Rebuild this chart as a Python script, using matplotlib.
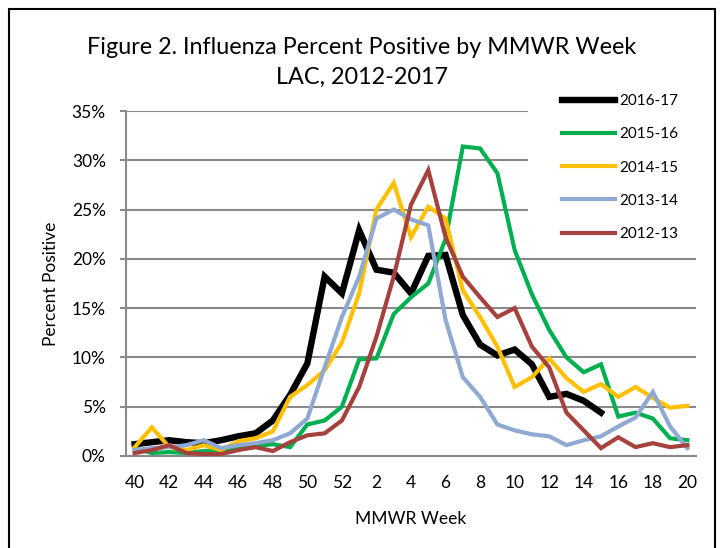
import numpy as np
import matplotlib
matplotlib.use('Agg')
import matplotlib.pyplot as plt
from matplotlib.patches import Rectangle
from matplotlib.ticker import PercentFormatter

# MMWR weeks 40..52 then 1..20
weeks = list(range(40, 53)) + list(range(1, 21))
tick_labels = [str(w) if w % 2 == 0 else '' for w in weeks]

s2016 = [1.2, 1.4, 1.6, 1.4, 1.3, 1.6, 2.0, 2.3, 3.6, 6.2, 9.4, 18.2, 16.5, 22.9,
         18.9, 18.6, 16.5, 20.3, 20.4, 14.3, 11.3, 10.2, 10.8, 9.3, 6.0, 6.3, 5.6, 4.4]
s2015 = [0.8, 0.3, 0.4, 0.3, 0.5, 0.6, 0.8, 1.0, 1.2, 0.9, 3.2, 3.6, 5.0, 9.8,
         9.9, 14.4, 16.1, 17.5, 22.0, 31.4, 31.2, 28.7, 20.9, 16.4, 12.8, 10.0,
         8.5, 9.3, 4.0, 4.4, 3.8, 1.8, 1.6]
s2014 = [0.9, 2.9, 0.9, 0.6, 1.1, 0.6, 1.5, 1.8, 2.5, 6.0, 7.2, 8.7, 11.5, 16.5,
         25.0, 27.7, 22.2, 25.3, 24.1, 16.8, 14.1, 11.1, 7.0, 8.0, 9.9, 7.9,
         6.5, 7.3, 6.0, 7.0, 5.9, 4.9, 5.1]
s2013 = [0.6, 0.8, 0.9, 1.1, 1.6, 0.8, 1.1, 1.3, 1.6, 2.3, 3.8, 9.0, 14.1, 18.2,
         24.1, 25.0, 24.0, 23.4, 13.8, 8.0, 6.0, 3.2, 2.6, 2.2, 2.0, 1.1,
         1.6, 2.0, 3.0, 3.9, 6.5, 3.0, 0.8]
s2012 = [0.3, 0.6, 1.1, 0.3, 0.2, 0.2, 0.6, 0.9, 0.5, 1.4, 2.1, 2.3, 3.6, 7.0,
         12.1, 18.2, 25.5, 29.0, 22.2, 18.2, 16.1, 14.1, 15.0, 11.1, 9.0, 4.4,
         2.6, 0.8, 1.9, 0.9, 1.3, 0.9, 1.1]

seasons = ['2016-17', '2015-16', '2014-15', '2013-14', '2012-13']
values = [s2016, s2015, s2014, s2013, s2012]
colors = ['#000000', '#00B050', '#FFC000', '#8FA9D2', '#A6423E']
widths = [4.6, 3.0, 3.0, 3.0, 3.0]

font = 'Lato'
grid_c = '#898989'

fig = plt.figure(figsize=(7.21, 5.48), dpi=100)
ax = fig.add_axes([126 / 721, 92 / 548, 570 / 721, 345 / 548])

x = np.arange(len(weeks))
lines = []
for i in range(len(seasons)):
    y = np.array(values[i]) / 100.0
    ln, = ax.plot(x[:len(y)], y, color=colors[i], lw=widths[i], label=seasons[i],
                  solid_joinstyle='miter', zorder=3 + i)
    lines.append(ln)

ax.set_xlim(-0.5, len(weeks) - 0.5)
ax.set_ylim(0, 0.35)
ax.set_yticks(np.arange(0, 0.351, 0.05))
ax.yaxis.set_major_formatter(PercentFormatter(1.0, decimals=0))
ax.set_xticks(x)
ax.set_xticklabels(tick_labels)

ax.grid(axis='y', color=grid_c, lw=1.5)
ax.set_axisbelow(True)
for side in ['top', 'right']:
    ax.spines[side].set_visible(False)
ax.spines['left'].set_color(grid_c)
ax.spines['bottom'].set_color(grid_c)
ax.spines['left'].set_linewidth(1.5)
ax.spines['bottom'].set_linewidth(1.5)
ax.tick_params(axis='y', length=4.5, width=1.5, color=grid_c, pad=10,
               labelsize=12.5)
ax.tick_params(axis='x', length=0, pad=14, labelsize=12.5)
for lab in ax.get_xticklabels() + ax.get_yticklabels():
    lab.set_fontfamily(font)

ax.set_xlabel('MMWR Week', fontsize=12.5, family=font, labelpad=14)
ax.set_ylabel('Percent Positive', fontsize=12.5, family=font, labelpad=9)

fig.text(362 / 721, 1 - 47 / 548, 'Figure 2. Influenza Percent Positive by MMWR Week',
         ha='center', va='center', fontsize=16.8, family=font)
fig.text(362 / 721, 1 - 77 / 548, 'LAC, 2012-2017',
         ha='center', va='center', fontsize=16.8, family=font)

# white legend area hides the top gridlines on the right
ax.add_patch(Rectangle((528 / 721, 1 - 246 / 548), 172 / 721, 160 / 548,
                       transform=fig.transFigure, facecolor='white',
                       edgecolor='none', zorder=2, clip_on=False))

leg = fig.legend(lines, seasons, loc='upper left',
                 bbox_to_anchor=(562 / 721, 1 - 94 / 548),
                 frameon=False, prop={'family': font, 'size': 11},
                 handlelength=3.45, handletextpad=0.33, labelspacing=1.26,
                 borderpad=0, borderaxespad=0)
leg.set_zorder(20)

fig.patches.append(Rectangle((9 / 721, -0.05), 706 / 721, 1.05 - 9 / 548,
                             transform=fig.transFigure, fill=False,
                             edgecolor='black', lw=1.5))

fig.savefig('out.png', dpi=100)
